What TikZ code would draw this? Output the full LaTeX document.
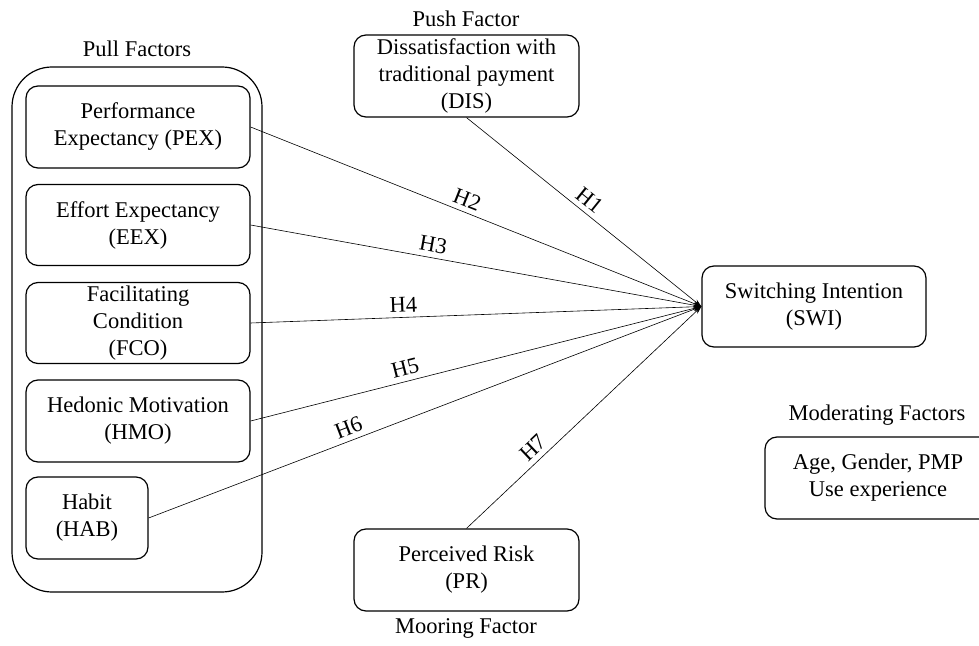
\documentclass[tikz,border=0pt]{standalone}
\usepackage{fontspec}
\setmainfont{Liberation Serif}
\usetikzlibrary{arrows.meta}
\begin{document}
\begin{tikzpicture}[x=1bp,y=-1bp,
  every node/.style={font=\fontsize{22.5bp}{27bp}\selectfont},
  box/.style={draw,line width=1.2bp,rounded corners=12bp,align=center,inner sep=0pt},
  outerbox/.style={draw,line width=1.2bp,rounded corners=40bp,inner sep=0pt},
  caption/.style={inner sep=0pt},
  link/.style={line width=0.6bp,-{Stealth[length=8bp,width=5bp]}},
  hlab/.style={sloped,above,inner sep=5bp}]
\useasboundingbox (0,0) rectangle (979,646);
\clip (0,0) rectangle (979,646);
% pull factors
\node[outerbox,minimum width=250bp,minimum height=525bp] (pull) at (137,329.5) {};
\node[caption] (pulllab) at (137,49) {Pull Factors};
\node[box,minimum width=224bp,minimum height=82bp] (pex) at (138,127) {Performance\\Expectancy (PEX)};
\node[box,minimum width=224bp,minimum height=81bp] (eex) at (138,225) {Effort Expectancy\\(EEX)};
\node[box,minimum width=224bp,minimum height=81bp] (fco) at (138,323) {Facilitating\\Condition\\(FCO)};
\node[box,minimum width=224bp,minimum height=82bp] (hmo) at (138,421) {Hedonic Motivation\\(HMO)};
\node[box,minimum width=122bp,minimum height=82bp] (hab) at (87,518) {Habit\\(HAB)};
% push
\node[caption] (pushlab) at (466,19) {Push Factor};
\node[box,minimum width=225bp,minimum height=82bp] (dis) at (466.5,76) {Dissatisfaction with\\traditional payment\\(DIS)};
% mooring
\node[box,minimum width=225bp,minimum height=82bp] (pr) at (466.5,570) {Perceived Risk\\(PR)};
\node[caption] (moorlab) at (466,628) {Mooring Factor};
% switching
\node[box,minimum width=224bp,minimum height=81bp] (swi) at (814,306.5) {Switching Intention\\(SWI)};
% moderating
\node[caption] (modlab) at (877,415) {Moderating Factors};
\node[box,minimum width=226bp,minimum height=82bp] (mod) at (878,478) {Age, Gender, PMP\\Use experience};
% links
\draw[link] (dis.south) -- node[hlab,pos=0.49] {H1} (swi.west);
\draw[link] (pex.east) -- node[hlab,pos=0.47] {H2} (swi.west);
\draw[link] (eex.east) -- node[hlab,pos=0.40] {H3} (swi.west);
\draw[link] (fco.east) -- node[hlab,pos=0.34] {H4} (swi.west);
\draw[link] (hmo.east) -- node[hlab,pos=0.35] {H5} (swi.west);
\draw[link] (hab.east) -- node[hlab,pos=0.37] {H6} (swi.west);
\draw[link] (pr.north) -- node[hlab,pos=0.32] {H7} (swi.west);
\end{tikzpicture}
\end{document}
